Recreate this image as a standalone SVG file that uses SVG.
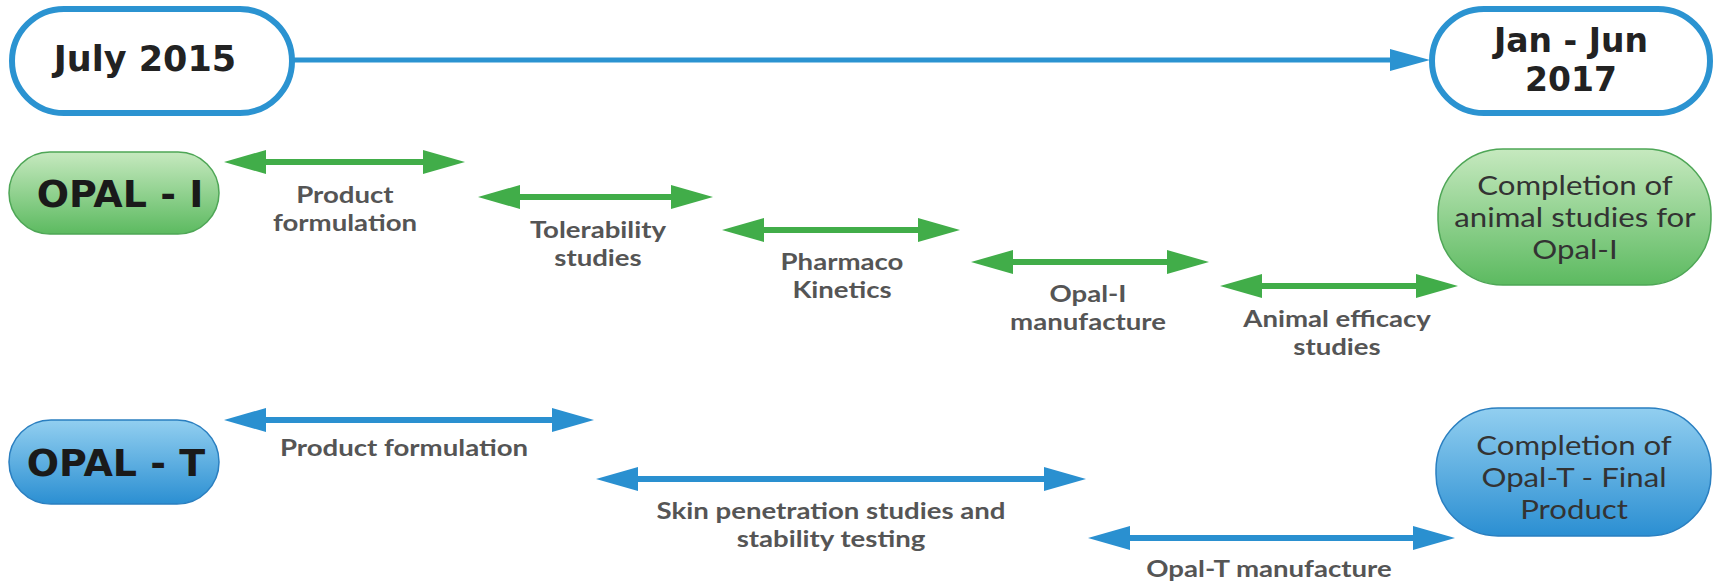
<svg xmlns="http://www.w3.org/2000/svg" width="1715" height="583" viewBox="0 0 1715 583">
<defs>
<style>
.date{fill:#fff;stroke:#2b93d1;stroke-width:6}
.dtxt{font-family:"DejaVu Sans",Verdana,sans-serif;font-weight:bold;font-size:33px;fill:#222;text-anchor:middle}
.big{font-size:35px}
.opal{font-family:"DejaVu Sans",Verdana,sans-serif;font-weight:bold;font-size:38px;fill:#1a1a1a;text-anchor:middle}
.lbl{font-family:Lato,"Open Sans",sans-serif;font-weight:bold;font-size:23px;fill:#555;text-anchor:middle;transform:scaleX(1.2);transform-box:fill-box;transform-origin:center}
.ctxt{font-family:Lato,"Open Sans",sans-serif;font-size:26px;fill:#333;text-anchor:middle;transform:scaleX(1.2);transform-box:fill-box;transform-origin:center}
.ga{stroke:#41ad49;stroke-width:6;fill:none;marker-start:url(#gh);marker-end:url(#gh)}
.ba{stroke:#2a90d0;stroke-width:6;fill:none;marker-start:url(#bh);marker-end:url(#bh)}
.gbox{fill:url(#gg);stroke:#4ea656;stroke-width:1.5}
.bbox{fill:url(#bg);stroke:#2a7fc0;stroke-width:1.5}
</style>
<linearGradient id="gg" x1="0" y1="0" x2="0" y2="1">
<stop offset="0" stop-color="#c6e9bf"/><stop offset="1" stop-color="#5cba60"/>
</linearGradient>
<linearGradient id="bg" x1="0" y1="0" x2="0" y2="1">
<stop offset="0" stop-color="#92cff0"/><stop offset="1" stop-color="#2b8fd2"/>
</linearGradient>
<marker id="gh" markerUnits="userSpaceOnUse" viewBox="0 0 42 24" markerWidth="42" markerHeight="24" refX="0" refY="12" orient="auto-start-reverse">
<path d="M0,0 L42,12 L0,24 z" fill="#41ad49"/>
</marker>
<marker id="bh" markerUnits="userSpaceOnUse" viewBox="0 0 42 24" markerWidth="42" markerHeight="24" refX="0" refY="12" orient="auto-start-reverse">
<path d="M0,0 L42,12 L0,24 z" fill="#2a90d0"/>
</marker>
<marker id="th" markerUnits="userSpaceOnUse" viewBox="0 0 40 22" markerWidth="40" markerHeight="22" refX="0" refY="11" orient="auto">
<path d="M0,0 L40,11 L0,22 z" fill="#2b93d1"/>
</marker>
</defs>

<g id="connectors">
<line x1="292" y1="60" x2="1390" y2="60" stroke="#2b93d1" stroke-width="5" marker-end="url(#th)"/>
<line class="ga" x1="266" y1="162" x2="423" y2="162"/>
<line class="ga" x1="520" y1="197" x2="671" y2="197"/>
<line class="ga" x1="764" y1="230" x2="918" y2="230"/>
<line class="ga" x1="1013" y1="262" x2="1167" y2="262"/>
<line class="ga" x1="1262" y1="286" x2="1416" y2="286"/>
<line class="ba" x1="266" y1="420" x2="552" y2="420"/>
<line class="ba" x1="638" y1="479" x2="1044" y2="479"/>
<line class="ba" x1="1130" y1="538" x2="1413" y2="538"/>
</g>

<g id="labels">
<text class="lbl" x="345" y="203">Product</text>
<text class="lbl" x="345" y="231">formulation</text>
<text class="lbl" x="598" y="238">Tolerability</text>
<text class="lbl" x="598" y="266">studies</text>
<text class="lbl" x="842" y="270">Pharmaco</text>
<text class="lbl" x="842" y="298">Kinetics</text>
<text class="lbl" x="1088" y="302">Opal-I</text>
<text class="lbl" x="1088" y="330">manufacture</text>
<text class="lbl" x="1337" y="327">Animal efficacy</text>
<text class="lbl" x="1337" y="355">studies</text>
<text class="lbl" x="404" y="456">Product formulation</text>
<text class="lbl" x="831" y="519">Skin penetration studies and</text>
<text class="lbl" x="831" y="547">stability testing</text>
<text class="lbl" x="1269" y="577">Opal-T manufacture</text>
</g>

<g id="start">
<rect class="date" x="12" y="9" width="280" height="104" rx="52"/>
<text class="dtxt big" x="145" y="71">July 2015</text>
</g>
<g id="end">
<rect class="date" x="1432" y="9" width="278" height="104" rx="52"/>
<text class="dtxt" x="1571" y="52">Jan - Jun</text>
<text class="dtxt" x="1571" y="91">2017</text>
</g>

<g id="opal-i">
<rect class="gbox" x="9" y="152" width="210" height="82" rx="41"/>
<text class="opal" x="120" y="207">OPAL - I</text>
</g>
<g id="opal-i-done">
<rect class="gbox" x="1438" y="149" width="273" height="136" rx="65"/>
<text class="ctxt" x="1575" y="195">Completion of</text>
<text class="ctxt" x="1575" y="227">animal studies for</text>
<text class="ctxt" x="1575" y="259">Opal-I</text>
</g>

<g id="opal-t">
<rect class="bbox" x="9" y="420" width="210" height="84" rx="42"/>
<text class="opal" x="116" y="476">OPAL - T</text>
</g>
<g id="opal-t-done">
<rect class="bbox" x="1436" y="408" width="275" height="128" rx="62"/>
<text class="ctxt" x="1574" y="455">Completion of</text>
<text class="ctxt" x="1574" y="487">Opal-T - Final</text>
<text class="ctxt" x="1574" y="519">Product</text>
</g>
</svg>
